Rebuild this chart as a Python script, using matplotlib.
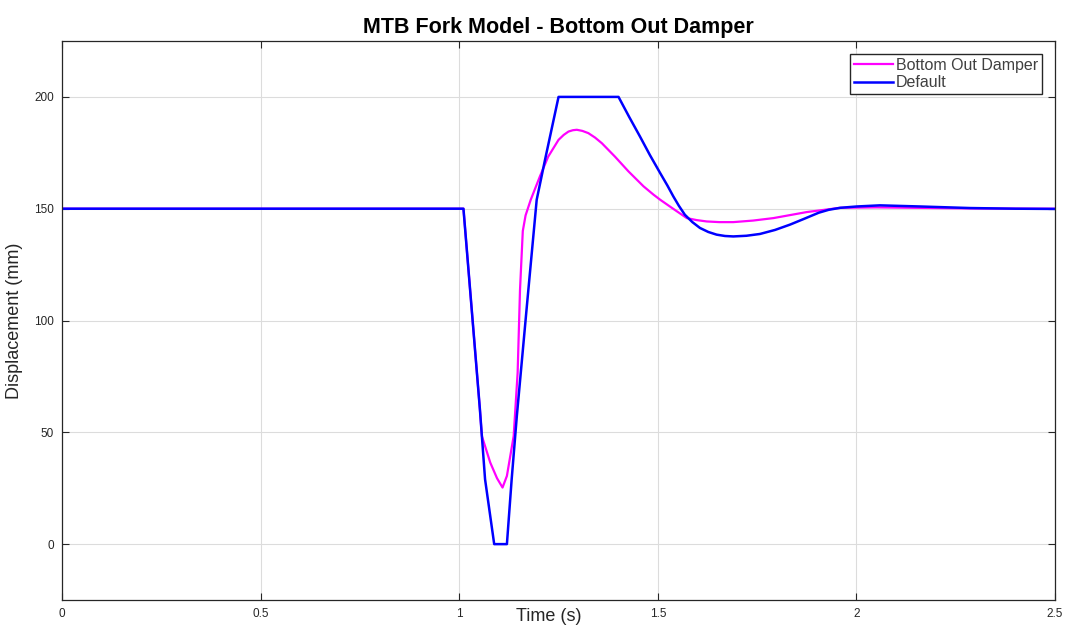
import matplotlib.pyplot as plt

plt.rcParams['font.family'] = ['Liberation Sans', 'DejaVu Sans']

# Default fork (blue)
t_default = [0.0, 1.0106, 1.052, 1.065, 1.088, 1.120, 1.132, 1.145, 1.170, 1.195,
             1.216, 1.250, 1.401, 1.428, 1.455, 1.480, 1.506, 1.524, 1.539, 1.553,
             1.568, 1.587, 1.606, 1.627, 1.648, 1.669, 1.690, 1.723, 1.757, 1.795,
             1.833, 1.870, 1.905, 1.930, 1.959, 2.001, 2.059, 2.160, 2.286, 2.400,
             2.500]
y_default = [150.0, 150.0, 60.3, 29.0, 0.0, 0.0, 29.0, 57.3, 106.0, 154.0,
             171.9, 200.0, 200.0, 191.0, 182.3, 174.0, 165.9, 160.4, 155.5, 151.3,
             147.3, 144.0, 141.4, 139.6, 138.4, 137.8, 137.6, 137.9, 138.7, 140.5,
             142.9, 145.6, 148.2, 149.5, 150.4, 151.0, 151.5, 151.0, 150.3, 150.0,
             149.9]

# Bottom out damper (magenta)
t_damper = [0.0, 1.0106, 1.052, 1.057, 1.078, 1.095, 1.109, 1.120, 1.137, 1.147,
            1.153, 1.160, 1.167, 1.180, 1.203, 1.224, 1.250, 1.263, 1.275, 1.286,
            1.296, 1.310, 1.325, 1.342, 1.359, 1.392, 1.426, 1.464, 1.489, 1.506,
            1.540, 1.573, 1.598, 1.623, 1.655, 1.690, 1.740, 1.791, 1.875, 1.959,
            2.050, 2.150, 2.300, 2.500]
y_damper = [150.0, 150.0, 60.3, 48.3, 36.5, 29.5, 25.3, 30.5, 48.3, 76.6,
            113.8, 140.0, 147.0, 154.0, 164.4, 173.3, 180.8, 183.0, 184.5, 185.1,
            185.3, 184.8, 183.8, 181.8, 179.3, 173.3, 166.7, 160.0, 156.3, 154.0,
            149.8, 145.8, 144.9, 144.3, 144.0, 144.0, 144.7, 145.8, 148.5, 150.4,
            150.6, 150.4, 150.1, 150.0]

fig = plt.figure(figsize=(10.7, 6.26), dpi=100)
ax = fig.add_axes([0.058, 0.0415, 0.928, 0.893])

ax.plot(t_damper, y_damper, color='#ff00ff', lw=1.6, label='Bottom Out Damper')
ax.plot(t_default, y_default, color='#0000ff', lw=1.8, label='Default')

ax.set_xlim(0, 2.5)
ax.set_ylim(-25, 225)
ax.set_xticks([0, 0.5, 1, 1.5, 2, 2.5])
ax.set_xticklabels(['0', '0.5', '1', '1.5', '2', '2.5'])
ax.set_yticks([0, 50, 100, 150, 200])
ax.tick_params(direction='in', top=True, right=True, labelsize=8.5, length=5,
               colors='#262626', pad=6)
ax.grid(True, color='#dcdcdc', lw=0.8)
ax.set_axisbelow(True)
for s in ax.spines.values():
    s.set_color('#262626')
    s.set_linewidth(0.9)

ax.set_title('MTB Fork Model - Bottom Out Damper', fontsize=15.5,
             fontweight='bold', pad=6)
ax.set_xlabel('Time (s)', fontsize=13, color='#262626')
ax.xaxis.set_label_coords(0.49, -0.015, transform=ax.transAxes)
ax.xaxis.label.set_verticalalignment('top')
ax.set_ylabel('Displacement (mm)', fontsize=13, labelpad=8, color='#262626')

leg = ax.legend(loc='upper right', bbox_to_anchor=(0.987, 0.977), fontsize=11.5,
                fancybox=False, framealpha=1, edgecolor='#262626',
                handlelength=2.4, handletextpad=0.2, borderpad=0.25,
                labelspacing=0.15, borderaxespad=0)
for txt in leg.get_texts():
    txt.set_color('#404040')

fig.savefig('out.png', dpi=100)
